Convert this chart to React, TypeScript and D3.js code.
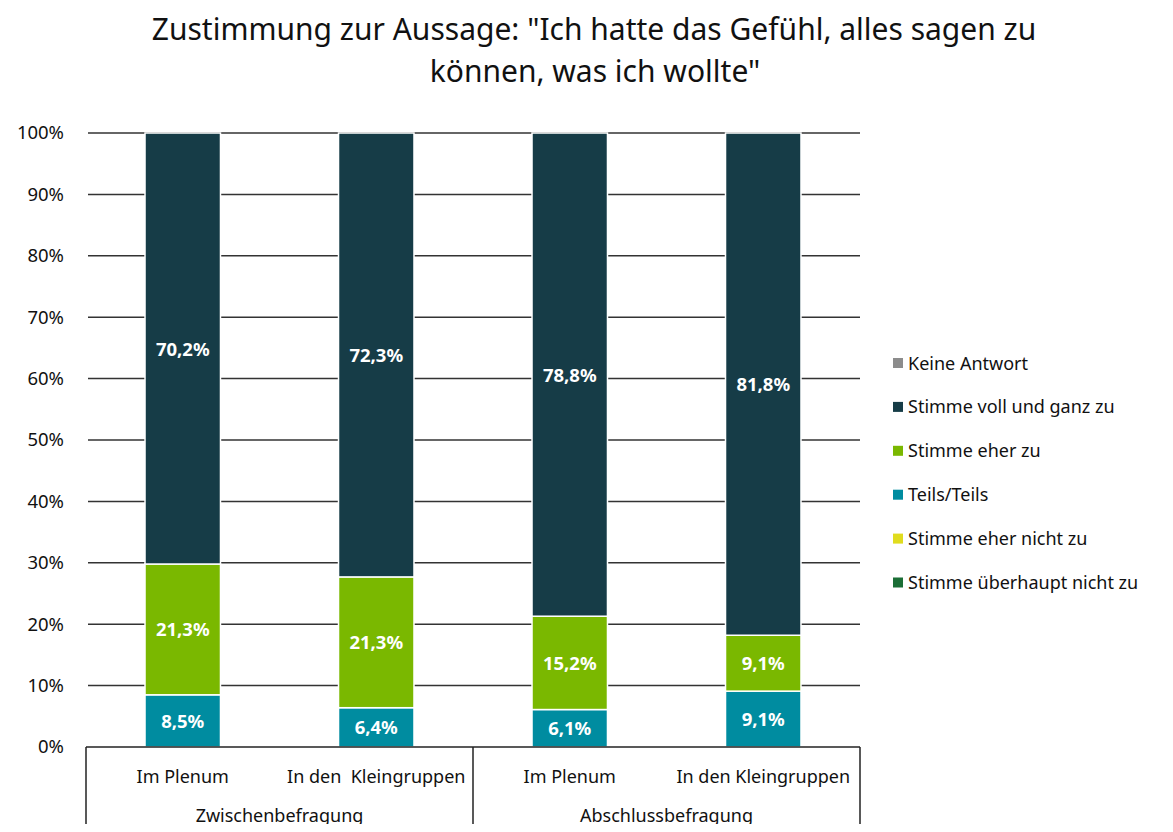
import { useEffect, useRef } from 'react';
import * as d3 from 'd3';

// categories (inner / outer level of the x axis)
const groups = ['Im Plenum', 'In den  Kleingruppen', 'Im Plenum', 'In den Kleingruppen'];
const waves = ['Zwischenbefragung', 'Abschlussbefragung'];

// series values per bar, bottom to top
const teilsTeils = [8.5, 6.4, 6.1, 9.1];
const eherZu = [21.3, 21.3, 15.2, 9.1];
const vollZu = [70.2, 72.3, 78.8, 81.8];

const seriesNames = ['Teils/Teils', 'Stimme eher zu', 'Stimme voll und ganz zu'];
const legendNames = [
  'Keine Antwort',
  'Stimme voll und ganz zu',
  'Stimme eher zu',
  'Teils/Teils',
  'Stimme eher nicht zu',
  'Stimme überhaupt nicht zu',
];
const colors: Record<string, string> = {
  'Keine Antwort': '#8c8c8c',
  'Stimme voll und ganz zu': '#163c47',
  'Stimme eher zu': '#7ab800',
  'Teils/Teils': '#008ca0',
  'Stimme eher nicht zu': '#e0dc1e',
  'Stimme überhaupt nicht zu': '#1b6e36',
};
const yTicks = [0, 10, 20, 30, 40, 50, 60, 70, 80, 90, 100];

const font = '"Noto Sans", "Open Sans", sans-serif';

export default function App() {
  const width = 1173;
  const height = 832;
  const left = 86;
  const right = 860;
  const top = 133;
  const bottom = 747;

  const x = d3.scaleBand<number>().domain(d3.range(groups.length)).range([left, right]).paddingInner(0.61).paddingOuter(0.305);
  const y = d3.scaleLinear().domain([0, 100]).range([bottom, top]);

  const table = groups.map((g, i) => ({
    'Teils/Teils': teilsTeils[i],
    'Stimme eher zu': eherZu[i],
    'Stimme voll und ganz zu': vollZu[i],
  }));
  const stacked = d3.stack<any>().keys(seriesNames)(table);

  const gy = useRef<SVGGElement>(null);
  useEffect(() => {
    const g = d3.select(gy.current);
    g.call(
      d3.axisLeft(y).tickValues(yTicks).tickSize(0).tickPadding(22).tickFormat((d) => `${d}%`)
    );
    g.select('.domain').remove();
    g.selectAll('text').attr('font-size', 18.5).attr('font-family', font).attr('fill', '#111');
  }, []);

  const bandStep = (right - left) / groups.length;

  return (
    <svg width={width} height={height} style={{ display: 'block', margin: -8 }}>
      <text x={594} y={40} textAnchor="middle" fontSize={30} fontFamily={font} fill="#111">
        Zustimmung zur Aussage: "Ich hatte das Gefühl, alles sagen zu
      </text>
      <text x={595} y={82} textAnchor="middle" fontSize={30} fontFamily={font} fill="#111">
        können, was ich wollte"
      </text>

      {yTicks.slice(1).map((t) => (
        <line key={t} x1={88} x2={right} y1={y(t)} y2={y(t)} stroke="#333" strokeWidth={1.5} />
      ))}

      {stacked.map((s) => (
        <g key={s.key} fill={colors[s.key]}>
          {s.map((d, i) => (
            <rect
              key={i}
              x={x(i)}
              y={y(Math.min(d[1], 100))}
              width={x.bandwidth()}
              height={y(d[0]) - y(Math.min(d[1], 100))}
              stroke="#fff"
              strokeWidth={1.5}
            />
          ))}
        </g>
      ))}

      {stacked.map((s) =>
        s.map((d, i) => (
          <text
            key={s.key + i}
            x={(x(i) as number) + x.bandwidth() / 2}
            y={(y(d[0]) + y(Math.min(d[1], 100))) / 2 + 7}
            textAnchor="middle"
            fontSize={18.5}
            fontWeight="bold"
            fontFamily={font}
            fill="#fff"
          >
            {`${(d[1] - d[0]).toFixed(1).replace('.', ',')}%`}
          </text>
        ))
      )}

      <g ref={gy} transform={`translate(${left},0)`} />

      {/* category axis box */}
      <g stroke="#222" strokeWidth={1.5}>
        <line x1={left} x2={right} y1={bottom} y2={bottom} />
        {[0, 2, 4].map((k) => (
          <line key={k} x1={left + k * bandStep} x2={left + k * bandStep} y1={bottom} y2={height} />
        ))}
      </g>
      {groups.map((g, i) => (
        <text
          key={i}
          x={(x(i) as number) + x.bandwidth() / 2}
          y={783}
          textAnchor="middle"
          fontSize={18}
          fontFamily={font}
          fill="#111"
          style={{ whiteSpace: 'pre' }}
        >
          {g}
        </text>
      ))}
      {waves.map((w, k) => (
        <text
          key={w}
          x={left + (k * 2 + 1) * bandStep}
          y={822}
          textAnchor="middle"
          fontSize={18}
          fontFamily={font}
          fill="#111"
        >
          {w}
        </text>
      ))}

      {legendNames.map((n, i) => (
        <g key={n} transform={`translate(893,${363 + i * 43.9})`}>
          <rect x={0} y={-5} width={10} height={10} fill={colors[n]} />
          <text x={15} y={6.5} fontSize={18} fontFamily={font} fill="#111">
            {n}
          </text>
        </g>
      ))}
    </svg>
  );
}
